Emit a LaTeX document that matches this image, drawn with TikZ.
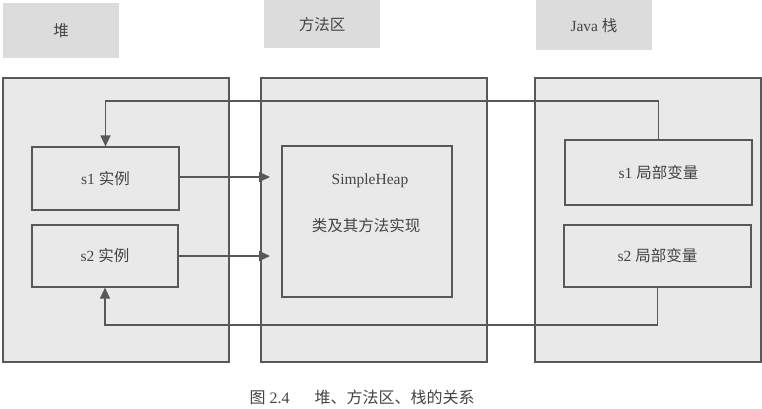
\documentclass[tikz,border=0pt]{standalone}
\usepackage{fontspec}
\setmainfont{Liberation Serif}
\newfontfamily\cjk{Noto Sans CJK SC}
\usetikzlibrary{arrows.meta}
\definecolor{lineg}{HTML}{585858}
\definecolor{boxg}{HTML}{E9E9E9}
\definecolor{labg}{HTML}{DCDCDC}
\definecolor{txtg}{HTML}{444444}
\begin{document}
\begin{tikzpicture}[x=1pt,y=-1pt,
  every node/.style={font=\fontsize{15.5}{18}\selectfont, text=txtg, inner sep=0pt},
  labbox/.style={fill=labg, minimum width=116pt},
  bigbox/.style={draw=lineg, line width=1.2pt, fill=boxg, minimum width=226pt, minimum height=284pt},
  inbox/.style={draw=lineg, line width=1.2pt, fill=boxg},
  arr/.style={draw=lineg, line width=1.2pt, -{Triangle[length=11pt,width=10pt]}}
]
\useasboundingbox (0,0) rectangle (762,408);
\fill[white] (0,0) rectangle (762,408);
% label boxes
\node[labbox, minimum height=55pt, text depth=-3pt] (lheap) at (61,30.5) {\cjk 堆};
\node[labbox, minimum height=48pt, text depth=-3pt] (lmeth) at (322,24) {\cjk 方法区};
\node[labbox, minimum height=50pt, text depth=-3pt] (lstack) at (594,25) {Java {\cjk 栈}};
% big boxes
\node[bigbox] (heap) at (116,220) {};
\node[bigbox] (meth) at (374,220) {};
\node[bigbox] (stack) at (648,220) {};
% inner boxes
\node[inbox, minimum width=147pt, minimum height=63pt] (s1) at (105.5,178.5) {s1 {\cjk 实例}};
\node[inbox, minimum width=146pt, minimum height=62pt] (s2) at (105,256) {s2 {\cjk 实例}};
\node[inbox, minimum width=170pt, minimum height=151pt] (sh) at (367,221.5) {};
\node (shname) at (370,181) {SimpleHeap};
\node (shdesc) at (366,226) {\cjk 类及其方法实现};
\node[inbox, minimum width=187pt, minimum height=65pt] (v1) at (658.5,172.5) {s1 {\cjk 局部变量}};
\node[inbox, minimum width=187pt, minimum height=62pt] (v2) at (657.5,256) {s2 {\cjk 局部变量}};
% arrows
\coordinate (a1) at (270,177);
\coordinate (a2) at (270,256);
\draw[arr] (s1.east |- a1) -- (a1);
\draw[arr] (s2.east) -- (a2);
\coordinate (toprow) at (0,101);
\coordinate (botrow) at (0,325);
\draw[arr] (v1.north) -- (v1.north |- toprow) -| (s1.north);
\draw[arr] (v2.south) -- (v2.south |- botrow) -| (s2.south);
% caption
\node[font=\fontsize{16}{18}\selectfont] (cap) at (362,397) {{\cjk 图} 2.4\hspace{25pt}{\cjk 堆、方法区、栈的关系}};
\end{tikzpicture}
\end{document}
